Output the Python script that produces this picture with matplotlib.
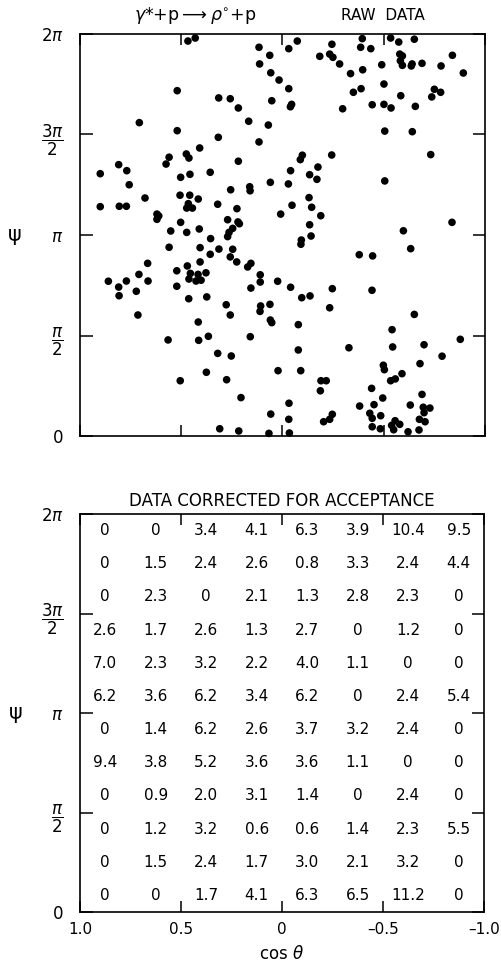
import matplotlib
matplotlib.use("Agg")
import matplotlib.pyplot as plt
import numpy as np

# raw events: cos(theta) and psi (in units of pi)
raw_cos = [
    0.467, 0.431, 0.520, 0.707, 0.520, 0.409, 0.475, 0.462, 0.560, 0.575,
    0.809, 0.769, 0.900, 0.357, 0.457, 0.503, 0.757, 0.679, 0.506, 0.458,
    0.416, 0.465, 0.473, 0.445, 0.900, 0.806, 0.771, 0.620, 0.611, 0.620,
    0.503, 0.552, 0.473, 0.411,
    0.116, -0.031, -0.073, -0.244, 0.063, -0.184, -0.233, -0.249, 0.113, -0.282,
    -0.336, 0.058, 0.017, -0.031, 0.315, 0.258, 0.218, 0.053, -0.039, -0.045,
    -0.297, 0.167, 0.070, 0.317, 0.116, 0.218, -0.098, -0.088, -0.243, -0.040,
    -0.175, -0.134, -0.170, 0.060, -0.029, 0.162, 0.160, 0.256, 0.320, 0.225,
    -0.047, -0.131, -0.144, 0.009, -0.189, 0.271, 0.220, 0.213, 0.246, 0.264,
    -0.134, -0.141,
    -0.394, -0.386, -0.436, -0.534, -0.574, -0.651, -0.579, -0.592, -0.582, -0.592,
    -0.640, -0.636, -0.689, -0.839, -0.783, -0.893, -0.490, -0.396, -0.501, -0.388,
    -0.350, -0.584, -0.750, -0.781, -0.737, -0.443, -0.501, -0.536, -0.656, -0.505,
    -0.641, -0.732, -0.505, -0.597, -0.837,
    0.355, 0.560, 0.407, 0.357, 0.666, 0.407, 0.470, 0.522, 0.709, 0.455,
    0.417, 0.378, 0.462, 0.427, 0.402, 0.860, 0.771, 0.664, 0.809, 0.522,
    0.807, 0.722, 0.463, 0.374, 0.714, 0.416, 0.366, 0.565, 0.414, 0.376,
    0.505,
    0.271, 0.314, 0.246, 0.258, 0.226, 0.172, 0.156, 0.110, 0.110, 0.156,
    0.024, -0.040, -0.093, -0.091, -0.246, -0.095, -0.136, -0.233, 0.278, 0.258,
    0.108, 0.111, 0.062, 0.060, 0.053, -0.078, 0.159, 0.320, 0.253, -0.078,
    -0.328, 0.022, -0.090, 0.276, -0.190, -0.216, -0.187, 0.205, -0.032, 0.058,
    -0.031, -0.203, -0.233, -0.246, 0.310, 0.216, 0.067, -0.034,
    -0.633, -0.379, -0.445, -0.442, -0.651, -0.541, -0.544, -0.699, -0.878, -0.788,
    -0.679, -0.498, -0.503, -0.590, -0.557, -0.534, -0.440, -0.689, -0.495, -0.381,
    -0.452, -0.631, -0.695, -0.728, -0.699, -0.431, -0.485, -0.443, -0.676, -0.704,
    -0.443, -0.483, -0.556, -0.579, -0.539, -0.549, -0.620, -0.674,
]
raw_psi = [
    1.965, 1.980, 1.718, 1.559, 1.519, 1.433, 1.403, 1.383, 1.387, 1.353,
    1.350, 1.320, 1.305, 1.312, 1.302, 1.287, 1.250, 1.184, 1.198, 1.198,
    1.179, 1.156, 1.134, 1.134, 1.141, 1.143, 1.143, 1.104, 1.095, 1.078,
    1.063, 1.020, 1.013, 1.030,
    1.934, 1.927, 1.965, 1.949, 1.894, 1.889, 1.900, 1.884, 1.851, 1.851,
    1.803, 1.807, 1.771, 1.728, 1.682, 1.678, 1.632, 1.668, 1.638, 1.650,
    1.628, 1.566, 1.547, 1.486, 1.463, 1.367, 1.397, 1.375, 1.398, 1.320,
    1.338, 1.300, 1.277, 1.262, 1.254, 1.240, 1.220, 1.225, 1.153, 1.131,
    1.148, 1.186, 1.138, 1.104, 1.096, 1.076, 1.065, 1.056, 1.033, 1.013,
    1.051, 0.995,
    1.977, 1.934, 1.927, 1.980, 1.960, 1.974, 1.900, 1.891, 1.867, 1.844,
    1.851, 1.841, 1.854, 1.894, 1.841, 1.806, 1.847, 1.822, 1.751, 1.728,
    1.710, 1.693, 1.725, 1.710, 1.687, 1.648, 1.650, 1.632, 1.640, 1.517,
    1.514, 1.400, 1.269, 1.021, 1.063,
    0.982, 0.939, 0.937, 0.904, 0.859, 0.866, 0.846, 0.822, 0.804, 0.809,
    0.804, 0.812, 0.781, 0.771, 0.775, 0.770, 0.771, 0.771, 0.741, 0.745,
    0.698, 0.720, 0.683, 0.692, 0.602, 0.567, 0.496, 0.478, 0.476, 0.317,
    0.275,
    0.992, 0.930, 0.929, 0.891, 0.866, 0.841, 0.859, 0.802, 0.766, 0.736,
    0.770, 0.740, 0.975, 0.954, 0.733, 0.688, 0.697, 0.638, 0.653, 0.602,
    0.647, 0.620, 0.655, 0.577, 0.564, 0.554, 0.494, 0.411, 0.398, 0.428,
    0.439, 0.325, 0.325, 0.280, 0.275, 0.275, 0.225, 0.191, 0.163, 0.109,
    0.083, 0.071, 0.083, 0.108, 0.036, 0.025, 0.013, 0.015,
    0.932, 0.902, 0.896, 0.725, 0.605, 0.529, 0.443, 0.454, 0.481, 0.397,
    0.360, 0.352, 0.330, 0.310, 0.284, 0.275, 0.237, 0.207, 0.189, 0.149,
    0.156, 0.154, 0.143, 0.139, 0.116, 0.113, 0.101, 0.088, 0.083, 0.071,
    0.046, 0.036, 0.076, 0.058, 0.053, 0.031, 0.021, 0.030,
]

# acceptance-corrected counts, rows from psi = 2pi down to 0, columns cos = 1 -> -1
corrected = [
    [0, 0, 3.4, 4.1, 6.3, 3.9, 10.4, 9.5],
    [0, 1.5, 2.4, 2.6, 0.8, 3.3, 2.4, 4.4],
    [0, 2.3, 0, 2.1, 1.3, 2.8, 2.3, 0],
    [2.6, 1.7, 2.6, 1.3, 2.7, 0, 1.2, 0],
    [7.0, 2.3, 3.2, 2.2, 4.0, 1.1, 0, 0],
    [6.2, 3.6, 6.2, 3.4, 6.2, 0, 2.4, 5.4],
    [0, 1.4, 6.2, 2.6, 3.7, 3.2, 2.4, 0],
    [9.4, 3.8, 5.2, 3.6, 3.6, 1.1, 0, 0],
    [0, 0.9, 2.0, 3.1, 1.4, 0, 2.4, 0],
    [0, 1.2, 3.2, 0.6, 0.6, 1.4, 2.3, 5.5],
    [0, 1.5, 2.4, 1.7, 3.0, 2.1, 3.2, 0],
    [0, 0, 1.7, 4.1, 6.3, 6.5, 11.2, 0],
]
cos_bins = [0.875, 0.625, 0.375, 0.125, -0.125, -0.375, -0.625, -0.875]
psi_bins = [2 - (i + 0.5) / 6 for i in range(12)]

xtick_vals = [1.0, 0.5, 0.0, -0.5, -1.0]
xtick_labels = ['1.0', '0.5', '0', '\u20130.5', '\u20131.0']
ytick_vals = [0, np.pi / 2, np.pi, 3 * np.pi / 2, 2 * np.pi]
ytick_labels = ['0', r'$\dfrac{\pi}{2}$', r'$\pi$', r'$\dfrac{3\pi}{2}$', r'$2\pi$']

W, H = 502, 973
fig = plt.figure(figsize=(W / 100, H / 100), dpi=100)
ax1 = fig.add_axes([80 / W, 1 - 436 / H, 405 / W, 402 / H])
ax2 = fig.add_axes([80 / W, 1 - 912 / H, 404 / W, 398 / H])


def style(ax, show_x):
    ax.set_xlim(1, -1)
    ax.set_ylim(0, 2 * np.pi)
    for s in ax.spines.values():
        s.set_linewidth(1.2)
    ax.set_xticks(xtick_vals)
    ax.set_yticks(ytick_vals)
    ax.set_yticklabels(ytick_labels, fontsize=12)
    if show_x:
        ax.set_xticklabels(xtick_labels, fontsize=11)
    else:
        ax.set_xticklabels([])
    ax.tick_params(axis='x', direction='in', length=8, width=1.1,
                   top=True, bottom=True, pad=7)
    ax.tick_params(axis='y', direction='in', length=9, width=1.1,
                   left=True, right=True, pad=12)
    ax.text(-0.16, np.pi, '\u03c8', fontsize=15, ha='center', va='center',
            transform=ax.get_yaxis_transform())


# top: raw data scatter
style(ax1, False)
ax1.scatter(raw_cos, np.array(raw_psi) * np.pi, s=30, color='black',
            edgecolors='none', clip_on=False)
fig.text(195 / W, 1 - 15 / H,
         r'$\gamma$*+p$\longrightarrow$$\rho$$^{\circ}$+p',
         fontsize=12.5, ha='center', va='center')
fig.text(383 / W, 1 - 15 / H, 'RAW  DATA', fontsize=11,
         ha='center', va='center')

# bottom: corrected counts printed in each bin
style(ax2, True)
for i, row in enumerate(corrected):
    for j, v in enumerate(row):
        txt = '0' if v == 0 else f'{v:.1f}'
        ax2.text(cos_bins[j], psi_bins[i] * np.pi, txt, fontsize=11,
                 ha='center', va='center')
ax2.set_title('DATA CORRECTED FOR ACCEPTANCE', fontsize=12, pad=6)
ax2.set_xlabel('cos $\\theta$', fontsize=12, labelpad=6)

plt.savefig('out.png', dpi=100)
